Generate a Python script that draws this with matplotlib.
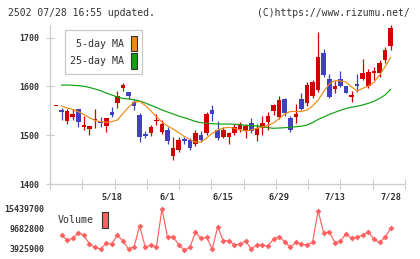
import matplotlib
matplotlib.use("Agg")
import matplotlib.pyplot as plt
from matplotlib.patches import Patch
import numpy as np

nan = np.nan

# ---------------- data ----------------
opens = [1560, 1552, 1530, 1538, 1553, 1516, 1513, 1531, 1530, 1519,
         1547, 1567, 1596, 1589, 1569, 1541, 1503, 1505, 1530, 1507,
         1511, 1457, 1470, 1492, 1490, 1483, 1500, 1505, 1552, 1511,
         1497, 1496, 1505, 1513, 1509, 1526, 1500, 1515, 1528, 1550,
         1538, 1574, 1535, 1538, 1574, 1567, 1580, 1593, 1668, 1615,
         1594, 1615, 1601, 1579, 1605, 1615, 1600, 1627, 1628, 1654, 1683]
highs = [1560, 1556, 1553, 1553, 1553, 1539, 1519, 1553, 1538, 1535,
         1558, 1590, 1608, 1589, 1575, 1546, 1509, 1520, 1544, 1531,
         1517, 1496, 1496, 1497, 1494, 1511, 1509, 1547, 1562, 1530,
         1516, 1507, 1522, 1528, 1524, 1536, 1522, 1539, 1548, 1564,
         1580, 1576, 1540, 1565, 1586, 1610, 1613, 1711, 1676, 1626,
         1611, 1632, 1601, 1590, 1625, 1656, 1635, 1640, 1655, 1681, 1725]
lows = [1560, 1531, 1524, 1531, 1517, 1511, 1500, 1515, 1517, 1507,
        1537, 1555, 1591, 1574, 1552, 1486, 1494, 1499, 1521, 1503,
        1483, 1450, 1466, 1483, 1470, 1477, 1486, 1500, 1530, 1490,
        1494, 1483, 1500, 1507, 1494, 1505, 1489, 1501, 1511, 1541,
        1534, 1540, 1507, 1525, 1552, 1560, 1577, 1589, 1620, 1577,
        1586, 1599, 1586, 1569, 1589, 1613, 1596, 1613, 1619, 1649, 1675]
closes = [1560, 1547, 1550, 1544, 1528, 1521, 1519, 1534, 1526, 1535,
          1541, 1580, 1603, 1580, 1560, 1497, 1499, 1517, 1532, 1524,
          1488, 1473, 1490, 1488, 1474, 1505, 1490, 1543, 1543, 1494,
          1511, 1504, 1517, 1522, 1519, 1509, 1515, 1526, 1539, 1562,
          1572, 1545, 1511, 1543, 1553, 1603, 1610, 1661, 1623, 1579,
          1601, 1601, 1587, 1582, 1601, 1628, 1630, 1632, 1649, 1675, 1719]

ma5 = [nan, 1559.9, 1555.8, 1552.8, 1548.2, 1542.5, 1535.9, 1530.2, 1527.7, 1526.5,
       1527.7, 1531.2, 1544.6, 1557.3, 1568.1, 1569.2, 1561.0, 1549.7, 1538.0, 1527.1,
       1518.9, 1512.8, 1505.2, 1497.4, 1491.2, 1486.1, 1486.1, 1494.3, 1504.0, 1510.7,
       1514.8, 1516.3, 1514.2, 1510.7, 1508.7, 1510.7, 1513.8, 1516.9, 1520.0, 1525.1,
       1534.3, 1543.5, 1548.7, 1548.7, 1548.7, 1551.7, 1559.9, 1572.2, 1589.7, 1605.0,
       1612.2, 1611.2, 1609.1, 1598.9, 1590.7, 1596.2, 1600.9, 1608.5, 1623.5, 1640.5, 1659.8]
ma25 = [nan, 1603.0, 1603.0, 1602.4, 1601.6, 1600.3, 1597.9, 1594.8, 1591.3, 1586.6,
        1582.5, 1578.4, 1575.3, 1574.3, 1572.8, 1570.2, 1566.1, 1561.4, 1556.9, 1551.7,
        1547.6, 1543.5, 1539.4, 1535.9, 1532.3, 1528.2, 1525.7, 1524.5, 1523.6, 1523.0,
        1523.0, 1523.0, 1522.6, 1521.6, 1520.4, 1519.5, 1518.9, 1517.9, 1515.4, 1514.2,
        1514.8, 1515.4, 1516.3, 1517.3, 1518.5, 1521.0, 1526.1, 1532.3, 1537.4, 1542.5,
        1547.0, 1551.1, 1554.8, 1557.3, 1559.5, 1562.0, 1565.5, 1569.6, 1575.3, 1582.5, 1594.2]

volume = [nan, 7860000, 6520000, 7000000, 8630000, 7860000, 5365000, 4406000, 3926000, 5557000,
          5365000, 7956000, 6229000, 3926000, 4598000, 10642000, 4406000, 5077000, 4598000, 15439700,
          7284000, 7476000, 5077000, 3638000, 4406000, 8723000, 6996000, 7284000, 3926000, 10354000,
          6229000, 6325000, 5077000, 5365000, 6229000, 3926000, 5077000, 5077000, 4789000, 6804000,
          7476000, 6037000, 4406000, 5845000, 5365000, 5077000, 5845000, 14960000, 8436000, 8915000,
          5749000, 6229000, 8244000, 6996000, 7284000, 7956000, 8915000, 6708000, 5845000, 7284000, 9875000]

date_labels = ["5/18", "6/1", "6/15", "6/29", "7/13", "7/28"]
date_index = [10, 20, 30, 40, 50, 60]
price_ticks = [1400, 1500, 1600, 1700]
vol_ticks = [3925900, 9682800, 15439700]

# ---------------- styling ----------------
W, H = 420, 259
FONT = "DejaVu Sans Mono"
plt.rcParams["font.family"] = [FONT]
RED = "#d40000"
BLUE = "#4040c0"
ORANGE = "#f08a14"
GREEN = "#10a010"
VOLC = "#ff6060"
AXC = "#cccccc"
TXT = "#333333"

fig = plt.figure(figsize=(W / 100, H / 100), dpi=100)

def fx(px):
    return px / W

def fy(py):
    return 1 - py / H

ax = fig.add_axes([fx(50), fy(184), fx(405) - fx(50), fy(25) - fy(184)])
vax = fig.add_axes([fx(50), fy(255), fx(405) - fx(50), fy(200) - fy(255)])

n = len(closes)
idx = np.arange(n)
xlim = (-1.08, 62.57)

# candles
bw = 0.82
for i in range(n):
    o, h, l, c = opens[i], highs[i], lows[i], closes[i]
    col = RED if c >= o else BLUE
    ax.vlines(i, l, h, color=col, linewidth=0.9, zorder=2)
    bottom = min(o, c)
    height = max(abs(c - o), 1.6)
    ax.bar(i, height, bw, bottom=bottom, color=col, linewidth=0, zorder=3)

ax.plot(idx, ma25, color=GREEN, linewidth=0.85, zorder=4)
ax.plot(idx, ma5, color=ORANGE, linewidth=0.85, zorder=4)

ax.set_xlim(*xlim)
ax.set_ylim(1400, 1726)
for s in ["top", "right"]:
    ax.spines[s].set_visible(False)
for s in ["left", "bottom"]:
    ax.spines[s].set_color(AXC)
    ax.spines[s].set_linewidth(0.9)

ax.set_yticks(price_ticks)
ax.set_yticklabels([str(t) for t in price_ticks])
ax.tick_params(axis="y", direction="inout", length=6, width=0.8, color=AXC,
               labelcolor=TXT, labelsize=6, pad=4.6)
ax.set_xticks(np.linspace(xlim[0], xlim[1], 12))
ax.set_xticklabels([])
ax.tick_params(axis="x", which="major", direction="inout", length=6.5, width=0.8, color=AXC)
ax.set_xticks(date_index, minor=True)
ax.set_xticklabels(date_labels, minor=True)
ax.tick_params(axis="x", which="minor", length=0, labelcolor=TXT, labelsize=6.2, pad=6.3)
for lab in ax.get_yticklabels() + ax.get_xticklabels(minor=True):
    lab.set_fontweight("bold")

leg = ax.legend([Patch(facecolor=ORANGE, edgecolor="#333333", linewidth=0.8),
                 Patch(facecolor=GREEN, edgecolor="#333333", linewidth=0.8)],
                ["5-day MA", "25-day MA"], markerfirst=False,
                handlelength=0.62, handleheight=2.05, handletextpad=0.6,
                labelspacing=0.15, borderpad=0.55, fontsize=7.2,
                loc="upper left", bbox_to_anchor=(fx(65), fy(30)),
                bbox_transform=fig.transFigure, borderaxespad=0,
                fancybox=False, edgecolor="#c8c8c8", framealpha=1)
leg.get_frame().set_linewidth(0.9)
for t in leg.get_texts():
    t.set_color(TXT)

# volume panel
vax.plot(idx, volume, color=VOLC, linewidth=0.85, marker="D", markersize=3.0,
         markerfacecolor=VOLC, markeredgewidth=0, zorder=2)
vax.set_xlim(*xlim)
vax.set_ylim(2198830, 18030305)
for s in vax.spines.values():
    s.set_visible(False)
vax.set_xticks([])
vax.set_yticks(vol_ticks)
vax.set_yticklabels([str(t) for t in vol_ticks])
vax.tick_params(axis="y", length=0, labelcolor=TXT, labelsize=6, pad=4.1)
for lab in vax.get_yticklabels():
    lab.set_fontweight("bold")

vleg = vax.legend([Patch(facecolor=VOLC, edgecolor="#333333", linewidth=0.8)], ["Volume"],
                  markerfirst=False, handlelength=0.6, handleheight=2.05,
                  handletextpad=0.8, borderpad=0.2, fontsize=7.2,
                  loc="upper left", bbox_to_anchor=(fx(56), fy(210)),
                  bbox_transform=fig.transFigure, borderaxespad=0,
                  fancybox=False, edgecolor="none", facecolor="white", framealpha=1)
for t in vleg.get_texts():
    t.set_color(TXT)

fig.text(fx(8), fy(12.7), "2502 07/28 16:55 updated.", fontsize=7.0, color=TXT,
         ha="left", va="center")
fig.text(fx(410), fy(12.7), "(C)https://www.rizumu.net/", fontsize=7.0, color=TXT,
         ha="right", va="center")

fig.savefig("out.png", dpi=100)
